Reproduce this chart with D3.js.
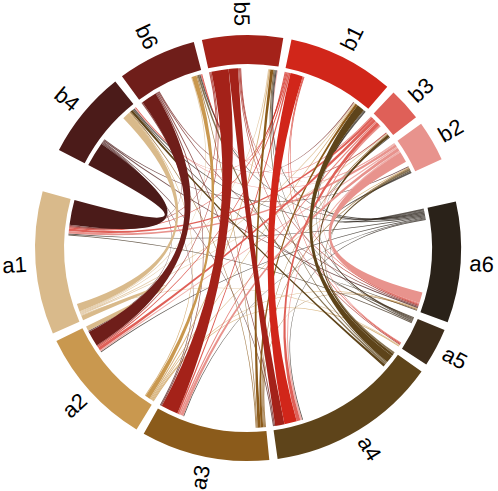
<!DOCTYPE html>
<html><head><meta charset="utf-8">
<script src="https://cdn.jsdelivr.net/npm/d3@7"></script>
<style>body{margin:0;background:#fff} svg{display:block}</style>
</head><body>
<svg id="chart" width="498" height="491"></svg>
<script>
// ---- data ----
const groupNames  = ["a1","a2","a3","a4","a5","a6","b1","b2","b3","b4","b5","b6"];
const groupColors = ["#D9BA8B","#C9984F","#8B5B1B","#5E441A","#3E2D1B","#2A2219",
                     "#D1261A","#E8938D","#DF6058","#4B1B19","#A42219","#6F1E1A"];
const groupTotals = [39, 32.5, 35, 46.5, 10.5, 33, 29, 11, 9, 24, 22, 21.5];
const circleOrder = ["b5","b1","b3","b2","a6","a5","a4","a3","a2","a1","b4","b6"];
const bigGapAfter = ["b2","a1"];

const linkSource = [
  "b4","b6","b5","b5","b1","a4","a2","a1","a1","b2","b3","b3","b3","b2","b2","a3","a3","a4","a4","a4",
  "a6","a6","a6","a6","a6","a6","a6","a6","a6",
  "a5","a5","a5","a5",
  "b1","b1","b1","b1","b1",
  "b5","b5","b5","b5",
  "b6","b6","b6","b6",
  "b4","b4","b4","b4",
  "b3","b3","b3",
  "b2","b2","b2",
  "a1","a1","a1","a1",
  "a2","a2","a2","a2",
  "a3","a3","a3","a3",
  "a4","a4",
  "b1","b3","a5","a5","a6","a3","a2","b6","b4","b5","a1","a2","b2","b1"];
const linkTarget = [
  "a1","a2","a3","a4","a4","b1","b6","b4","a2","a6","a4","a2","a1","a3","a1","b5","b1","b3","b4","b6",
  "b4","b6","b5","b1","b3","b2","a1","a2","a3",
  "b2","b4","b5","a6",
  "a1","a2","a3","a5","a6",
  "a1","a2","a5","a6",
  "a1","a3","a4","a6",
  "a2","a3","a4","a6",
  "a3","a5","a6",
  "a2","a4","b5",
  "b1","b5","b6","b3",
  "b1","b2","b4","b5",
  "b2","b4","b6","b3",
  "b2","b5",
  "b4","b6","a1","b1","a4","a6","a5","b1","b2","b3","a5","a6","b4","b6"];
const linkValue = [
  8, 5, 5.5, 3, 4, 2.5, 1.5, 2.5, 1.5, 3.5, 1.2, 1.0, 0.8, 1.0, 0.8, 1.0, 0.8, 0.8, 0.8, 0.6,
  0.4, 0.4, 0.4, 0.5, 0.3, 0.5, 0.3, 0.3, 0.3,
  0.4, 0.4, 0.3, 0.3,
  0.4, 0.4, 0.5, 0.3, 0.3,
  0.4, 0.4, 0.3, 0.4,
  0.4, 0.4, 0.4, 0.3,
  0.4, 0.3, 0.3, 0.4,
  0.5, 0.3, 0.3,
  0.5, 0.6, 0.3,
  0.3, 0.3, 0.3, 0.3,
  0.3, 0.3, 0.3, 0.4,
  0.3, 0.3, 0.3, 0.3,
  0.6, 0.4,
  0.3, 0.3, 0.3, 0.3, 0.3, 0.3, 0.3, 0.3, 0.3, 0.3, 0.3, 0.3, 0.3, 0.3];

// ---- layout ----
const cx = 248, cy = 248;
const rOuter = 213, rInner = 184, rRibbon = 180, rLabel = 222;
const startDeg = -12.5, smallPad = 2.25, bigPad = 12;
const TAU = 2 * Math.PI;
const deg2rad = d3.scaleLinear().domain([0, 360]).range([0, TAU]);
const padSum = d3.sum(circleOrder, n => bigGapAfter.includes(n) ? bigPad : smallPad);
const totalValue = d3.sum(groupTotals);
const valueToAngle = d3.scaleLinear().domain([0, totalValue]).range([0, TAU - deg2rad(padSum)]);
const color = d3.scaleOrdinal().domain(groupNames).range(groupColors);

const groups = {};
let acc = deg2rad(startDeg);
circleOrder.forEach(n => {
  const i = groupNames.indexOf(n);
  const span = valueToAngle(groupTotals[i]);
  groups[n] = {name: n, index: i, startAngle: acc, endAngle: acc + span};
  acc += span + deg2rad(bigGapAfter.includes(n) ? bigPad : smallPad);
});
const mid = g => (g.startAngle + g.endAngle) / 2;
const rel = (g, o) => { let d = mid(o) - mid(g); return ((d % TAU) + TAU) % TAU; };

const links = linkSource.map((s, i) => ({source: s, target: linkTarget[i], value: linkValue[i]}));
circleOrder.forEach(n => {
  const g = groups[n];
  const outs = links.filter(l => l.source === n)
    .sort((p, q) => rel(g, groups[q.target]) - rel(g, groups[p.target]));
  let x = g.startAngle;
  outs.forEach(l => { const w = valueToAngle(l.value); l.s = {startAngle: x, endAngle: x + w}; x += w; });
  const ins = links.filter(l => l.target === n)
    .sort((p, q) => rel(g, groups[q.source]) - rel(g, groups[p.source]));
  let y = g.endAngle - d3.sum(ins, l => valueToAngle(l.value));
  ins.forEach(l => { const w = valueToAngle(l.value); l.t = {startAngle: y, endAngle: y + w}; y += w; });
});

// ---- draw ----
const svg = d3.select("#chart");
const root = svg.append("g").attr("transform", `translate(${cx},${cy})`);

const ribbon = d3.ribbon().radius(rRibbon);
root.append("g").selectAll("path")
  .data(links.slice().sort((a, b) => a.value - b.value))
  .join("path")
  .attr("d", l => ribbon({source: l.s, target: l.t}))
  .attr("fill", l => color(l.source))
  .attr("fill-opacity", l => l.value < 0.7 ? 0.75 : 1);

const arc = d3.arc().innerRadius(rInner).outerRadius(rOuter);
const gArr = circleOrder.map(n => groups[n]);
root.append("g").selectAll("path")
  .data(gArr).join("path")
  .attr("d", arc)
  .attr("fill", g => color(g.name));

root.append("g").selectAll("text")
  .data(gArr).join("text")
  .each(function(g) {
    let deg = mid(g) * 180 / Math.PI;
    deg = ((deg % 360) + 360) % 360;
    d3.select(this)
      .attr("transform", `rotate(${deg - 90}) translate(${rLabel}) ${deg > 180 ? "rotate(180)" : ""}`)
      .attr("text-anchor", deg > 180 ? "end" : "start");
  })
  .attr("dy", "0.35em")
  .attr("font-family", "Liberation Sans, Arial, sans-serif")
  .attr("font-size", 22)
  .attr("fill", "#000")
  .text(g => g.name);
</script>
</body></html>
